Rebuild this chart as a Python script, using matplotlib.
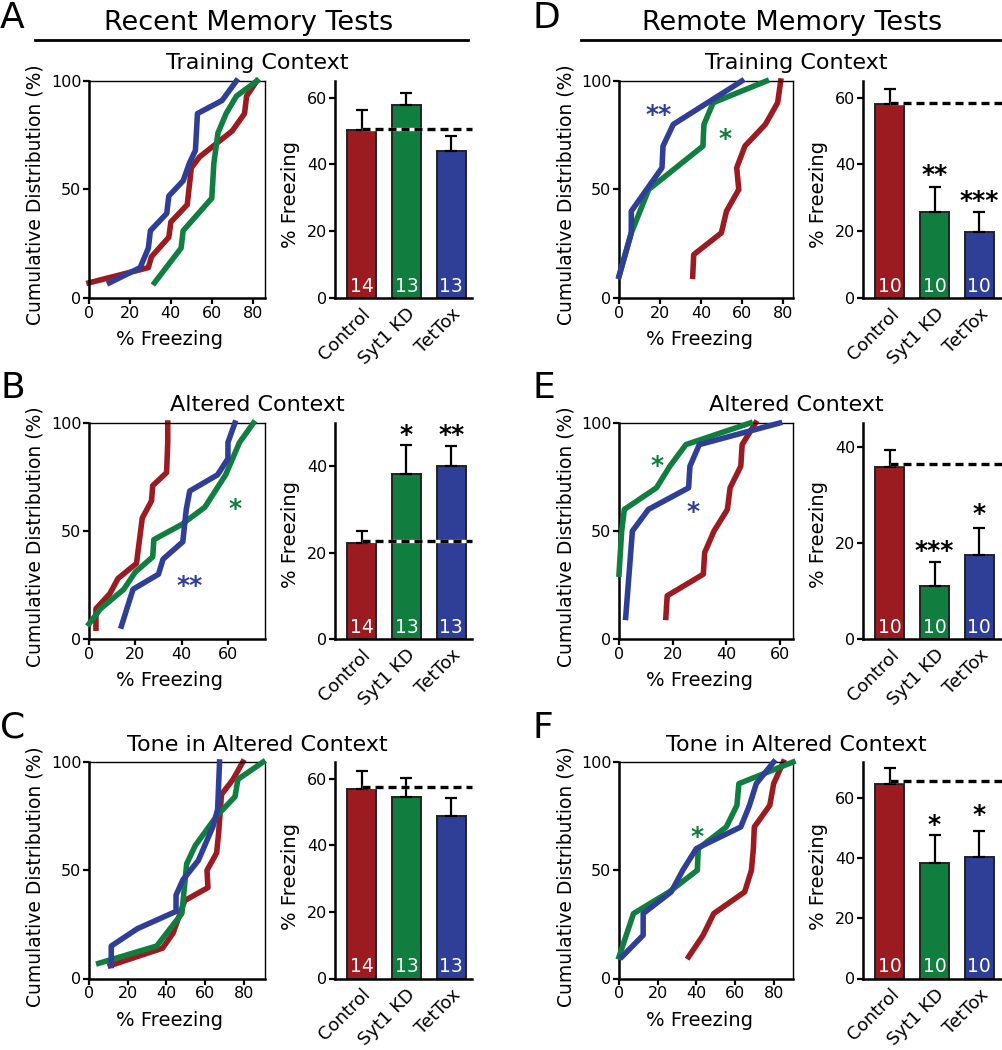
import matplotlib
matplotlib.use("Agg")
import matplotlib.pyplot as plt
from matplotlib.lines import Line2D
import numpy as np

W, H = 1002, 1050
RED, GREEN, BLUE = "#9c1b21", "#0f7e3e", "#2f3f98"

groups = ["Control", "Syt1 KD", "TetTox"]

# A - recent, training context
a_red_x = [0, 29, 30.5, 39, 40, 48, 50, 54, 70, 76, 77, 82]
a_red_y = [7, 14, 19, 28, 35, 43, 60, 65, 77, 85, 93, 100]
a_green_x = [32, 45, 46, 60, 61, 63, 67, 72, 82]
a_green_y = [7, 23, 31, 46, 62, 76, 85, 93, 100]
a_blue_x = [10, 25, 29, 30, 38, 39, 46, 49, 52, 53, 65, 72]
a_blue_y = [7, 14, 23, 31, 39, 47, 54, 62, 68, 85, 91, 100]
a_means = [50.4, 57.7, 43.9]
a_sem = [5.8, 3.7, 4.7]
a_n = [14, 13, 13]
a_ctrl = 50.6

# B - recent, altered context
b_red_x = [3, 3, 9, 12.5, 20.5, 23, 27, 27.5, 33.5, 34, 34]
b_red_y = [5, 14, 21, 28, 35, 56, 64, 71, 77, 91, 100]
b_green_x = [0, 5, 15, 20, 27.5, 28, 40, 50, 59, 65, 71]
b_green_y = [7, 14, 23, 31, 38, 46, 53, 61, 76, 91, 100]
b_blue_x = [14, 19, 30, 32, 40.5, 42, 43.5, 55.5, 60, 60, 63]
b_blue_y = [6, 23, 30, 37, 45, 60, 68.5, 76, 83.5, 91, 100]
b_means = [22.2, 38.3, 40.1]
b_sem = [2.8, 6.5, 4.5]
b_n = [14, 13, 13]
b_ctrl = 22.7

# C - recent, tone in altered context
c_red_x = [11, 38, 43.5, 49.5, 61.5, 61, 66, 67, 68.5, 74.5, 79.5]
c_red_y = [6, 14, 21, 36, 42, 50, 58, 67, 85, 92, 100]
c_green_x = [5, 35, 48, 50.5, 55, 66, 75.5, 77, 90]
c_green_y = [7, 15, 30, 53, 61.5, 75, 84, 92, 100]
c_blue_x = [11.5, 11.5, 25, 45, 45, 48.5, 56.5, 64, 66.5, 67.5]
c_blue_y = [6, 15, 23, 31, 38.5, 45.5, 54.5, 70, 78, 100]
c_means = [57.0, 54.5, 48.8]
c_sem = [5.2, 5.7, 5.4]
c_n = [14, 13, 13]
c_ctrl = 57.5

# D - remote, training context
d_red_x = [36, 36.5, 50, 52.5, 58.5, 57.5, 61.5, 71.5, 77.5, 79]
d_red_y = [10, 20, 30, 40, 50, 60, 70, 80, 90, 100]
d_green_x = [0, 6, 14.5, 41, 41.5, 46, 72]
d_green_y = [10, 30, 50, 70, 80, 90, 100]
d_blue_x = [0, 6, 6, 21, 21.5, 26.5, 60]
d_blue_y = [10, 30, 40, 60, 70, 80, 100]
d_means = [58.2, 25.9, 19.9]
d_sem = [4.5, 7.2, 5.8]
d_n = [10, 10, 10]
d_ctrl = 58.3

# E - remote, altered context
e_red_x = [17.5, 18, 31.5, 32, 35.5, 40.5, 41.5, 45.5, 46, 51]
e_red_y = [10, 20, 30, 40, 50, 60, 70, 80, 90, 100]
e_green_x = [0, 1, 2, 14, 19, 25, 49]
e_green_y = [30, 50, 60, 70, 80, 90, 100]
e_blue_x = [2.5, 5, 11, 26, 26.5, 30, 60]
e_blue_y = [10, 50, 60, 70, 80, 90, 100]
e_means = [35.8, 11.1, 17.6]
e_sem = [3.6, 5.0, 5.6]
e_n = [10, 10, 10]
e_ctrl = 36.4

# F - remote, tone in altered context
f_red_x = [36, 43.5, 49, 65, 68.5, 69.5, 70, 78, 80, 85]
f_red_y = [10, 20, 30, 40, 50, 60, 70, 80, 90, 100]
f_green_x = [0, 7.5, 26, 40.5, 41, 55.5, 61, 62, 90]
f_green_y = [10, 30, 40, 50, 60, 70, 80, 90, 100]
f_blue_x = [1.5, 12.5, 12.5, 27, 33, 40, 63, 67.5, 71, 80]
f_blue_y = [10, 20, 30, 40, 50, 60, 70, 80, 90, 100]
f_means = [64.6, 38.5, 40.4]
f_sem = [5.3, 9.1, 8.8]
f_n = [10, 10, 10]
f_ctrl = 65.7

# significance marks
b_cdf_marks = [("**", 43.3, 28, BLUE), ("*", 63, 63.5, GREEN)]
b_bar_marks = [("*", 1, 49), ("**", 2, 49)]
d_cdf_marks = [("**", 19.2, 88, BLUE), ("*", 52, 76.6, GREEN)]
d_bar_marks = [("**", 1, 39), ("***", 2, 31.4)]
e_cdf_marks = [("*", 14.2, 83.5, GREEN), ("*", 27.8, 62.3, BLUE)]
e_bar_marks = [("***", 1, 20), ("*", 2, 27.6)]
f_cdf_marks = [("*", 40.4, 68.8, GREEN)]
f_bar_marks = [("*", 1, 53.7), ("*", 2, 56.8)]

plt.rcParams["font.family"] = ["DejaVu Sans"]

fig = plt.figure(figsize=(W / 100, H / 100), dpi=100)


def px_axes(left, top, right, bottom):
    return fig.add_axes([left / W, 1 - bottom / H, (right - left) / W, (bottom - top) / H])


def ftext(x, y, s, **kw):
    fig.text(x / W, 1 - y / H, s, **kw)


def star(ax, s, x, y, color):
    # centre the asterisk glyph on (x, y)
    ax.annotate(s, (x, y), xytext=(0, -10.5), textcoords="offset points",
                ha="center", va="baseline", fontsize=18, fontweight="bold",
                color=color, annotation_clip=False)


def draw_cdf(ax, lines, xmax, xticks, marks):
    for (x, y), c, z in zip(lines, [RED, GREEN, BLUE], [2, 3, 4]):
        ax.plot(x, y, color=c, lw=4.0, clip_on=False, zorder=z)
    ax.set_xlim(0, xmax)
    ax.set_ylim(0, 100)
    ax.set_xticks(xticks)
    ax.set_yticks([0, 50, 100])
    for sp in ["left", "bottom"]:
        ax.spines[sp].set_linewidth(1.8)
    for sp in ["top", "right"]:
        ax.spines[sp].set_linewidth(1.0)
    ax.tick_params(direction="out", length=4, width=1.6, labelsize=11.5, pad=1.5)
    for s, x, y, c in marks:
        star(ax, s, x, y, c)


def draw_bars(ax, means, sem, ns, ctrl, ymax, yticks, xlim, marks):
    x = np.arange(len(groups))
    ax.bar(x, means, width=0.65, color=[RED, GREEN, BLUE], edgecolor="#222222",
           linewidth=1.4, zorder=2)
    ax.errorbar(x, means, yerr=[np.zeros(len(sem)), sem], fmt="none", ecolor="black",
                elinewidth=1.6, capsize=4, capthick=1.6, zorder=3)
    ax.plot([0, xlim[1]], [ctrl, ctrl], color="white", lw=2.4, zorder=4,
            clip_on=False, solid_capstyle="butt")
    ax.plot([0, xlim[1]], [ctrl, ctrl], color="black", lw=2.4, zorder=5,
            clip_on=False, dashes=(2.4, 1.5), dash_capstyle="butt")
    for i, n in enumerate(ns):
        ax.annotate(str(n), (i, 0), xytext=(0, 4.5), textcoords="offset points",
                    ha="center", va="baseline", color="white", fontsize=13.5, zorder=6)
    for s, i, y in marks:
        star(ax, s, i, y, "black")
    ax.set_xlim(*xlim)
    ax.set_ylim(0, ymax)
    ax.set_yticks(yticks)
    ax.set_xticks(x)
    ax.set_xticklabels(groups, rotation=45, ha="right", rotation_mode="anchor",
                       fontsize=13)
    ax.spines["top"].set_visible(False)
    ax.spines["right"].set_visible(False)
    ax.spines["left"].set_linewidth(1.8)
    ax.spines["bottom"].set_linewidth(1.8)
    ax.tick_params(axis="y", direction="out", length=4, width=1.6, labelsize=11.5, pad=1.5)
    ax.tick_params(axis="x", length=0, pad=5)


cols = {
    "left": dict(cdf=(89, 265), bar=(335, 472), xlim=(-0.59, 2.46), letter=0,
                 sub=257, ylab=35, xlab=170, barlab=291),
    "right": dict(cdf=(619, 793), bar=(863, 1002), xlim=(-0.6, 2.51), letter=533,
                  sub=796, ylab=566.5, xlab=700, barlab=818),
}
rows = [
    dict(box=(81, 298), letter=28, sub=69, ylab=194.5, barlab=194),
    dict(box=(423, 639), letter=398, sub=411, ylab=536.5, barlab=534),
    dict(box=(762, 978.5), letter=738, sub=751, ylab=876.5, barlab=877),
]

panels = [
    ("A", "left", 0, "Training Context",
     [(a_red_x, a_red_y), (a_green_x, a_green_y), (a_blue_x, a_blue_y)], 86, [0, 20, 40, 60, 80], [],
     a_means, a_sem, a_n, a_ctrl, 65, [0, 20, 40, 60], []),
    ("B", "left", 1, "Altered Context",
     [(b_red_x, b_red_y), (b_green_x, b_green_y), (b_blue_x, b_blue_y)], 76, [0, 20, 40, 60], b_cdf_marks,
     b_means, b_sem, b_n, b_ctrl, 50, [0, 20, 40], b_bar_marks),
    ("C", "left", 2, "Tone in Altered Context",
     [(c_red_x, c_red_y), (c_green_x, c_green_y), (c_blue_x, c_blue_y)], 91, [0, 20, 40, 60, 80], [],
     c_means, c_sem, c_n, c_ctrl, 65, [0, 20, 40, 60], []),
    ("D", "right", 0, "Training Context",
     [(d_red_x, d_red_y), (d_green_x, d_green_y), (d_blue_x, d_blue_y)], 85, [0, 20, 40, 60, 80], d_cdf_marks,
     d_means, d_sem, d_n, d_ctrl, 65, [0, 20, 40, 60], d_bar_marks),
    ("E", "right", 1, "Altered Context",
     [(e_red_x, e_red_y), (e_green_x, e_green_y), (e_blue_x, e_blue_y)], 65, [0, 20, 40, 60], e_cdf_marks,
     e_means, e_sem, e_n, e_ctrl, 45, [0, 20, 40], e_bar_marks),
    ("F", "right", 2, "Tone in Altered Context",
     [(f_red_x, f_red_y), (f_green_x, f_green_y), (f_blue_x, f_blue_y)], 90, [0, 20, 40, 60, 80], f_cdf_marks,
     f_means, f_sem, f_n, f_ctrl, 72, [0, 20, 40, 60], f_bar_marks),
]

for (letter, col, r, subtitle, lines, xmax, xticks, cmarks,
     means, sem, ns, ctrl, ymax, yticks, bmarks) in panels:
    c = cols[col]
    row = rows[r]
    top, bottom = row["box"]
    ax1 = px_axes(c["cdf"][0], top, c["cdf"][1], bottom)
    draw_cdf(ax1, lines, xmax, xticks, cmarks)
    ax2 = px_axes(c["bar"][0], top, c["bar"][1], bottom)
    draw_bars(ax2, means, sem, ns, ctrl, ymax, yticks, c["xlim"], bmarks)

    ftext(c["letter"], row["letter"], letter, fontsize=26, va="baseline", ha="left")
    ftext(c["sub"], row["sub"], subtitle, fontsize=16, va="baseline", ha="center")
    ftext(c["ylab"], row["ylab"], "Cumulative Distribution (%)", fontsize=13.5,
          rotation=90, ha="center", va="center")
    ftext(c["xlab"], bottom + 47, "% Freezing", fontsize=14, ha="center", va="baseline")
    ftext(c["barlab"], row["barlab"], "% Freezing", fontsize=14, rotation=90,
          ha="center", va="center")

# column headers
ftext(249, 30, "Recent Memory Tests", fontsize=19.5, ha="center", va="baseline")
ftext(792, 30, "Remote Memory Tests", fontsize=19.5, ha="center", va="baseline")
fig.add_artist(Line2D([35 / W, 468 / W], [1 - 40 / H, 1 - 40 / H], color="black", lw=2))
fig.add_artist(Line2D([581 / W, 1000 / W], [1 - 40 / H, 1 - 40 / H], color="black", lw=2))

fig.savefig("out.png", dpi=100)
